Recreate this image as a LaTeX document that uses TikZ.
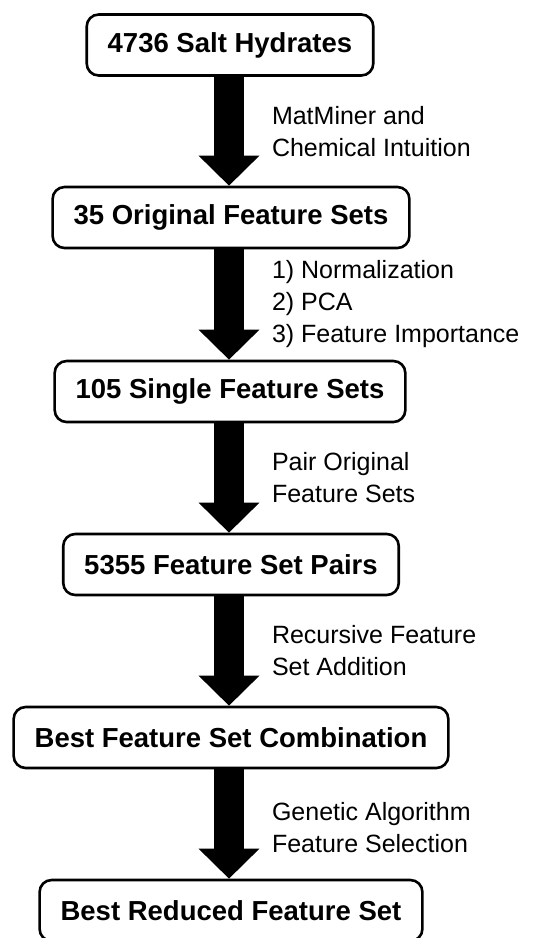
\documentclass[tikz,border=0pt]{standalone}
\usepackage{fontspec}
\setmainfont{Liberation Sans}
\usetikzlibrary{arrows.meta}

\tikzset{
  stage/.style={draw, line width=2.6pt, rounded corners=12pt, minimum height=61pt,
    inner xsep=21pt, font=\fontsize{27.5}{30}\selectfont\bfseries},
  flow/.style={line width=30pt, -{Triangle[width=59pt,length=30pt]}},
  how/.style={font=\fontsize{25}{32}\selectfont, align=left, inner sep=0pt, right=28pt},
}

\begin{document}
\begin{tikzpicture}[x=1pt,y=1pt]
    \useasboundingbox (0,0) rectangle (551,-938);% page frame
    % the stages, top to bottom
    \node[stage] (hydrates) at (230,-45) {4736 Salt Hydrates};
    \node[stage] (original) at (231,-217.5) {35 Original Feature Sets};
    \node[stage] (single) at (230,-391.5) {105 Single Feature Sets};
    \node[stage] (pairs) at (231,-564.5) {5355 Feature Set Pairs};
    \node[stage] (combo) at (231,-737.5) {Best Feature Set Combination};
    \node[stage] (reduced) at (231,-910.5) {Best Reduced Feature Set};
    % block arrows with what happens on each step
    \draw[flow] (hydrates.south -| 229,0) -- (original.north -| 229,0)
        node[how, midway] {MatMiner and\\Chemical Intuition};
    \draw[flow] (original.south -| 229,0) -- (single.north -| 229,0)
        node[how, midway] {1) Normalization\\2) PCA\\3) Feature Importance};
    \draw[flow] (single.south -| 229,0) -- (pairs.north -| 229,0)
        node[how, midway] {Pair Original\\Feature Sets};
    \draw[flow] (pairs.south -| 229,0) -- (combo.north -| 229,0)
        node[how, midway] {Recursive Feature\\Set Addition};
    \draw[flow] (combo.south -| 229,0) -- (reduced.north -| 229,0)
        node[how, midway, yshift=-4pt] {Genetic Algorithm\\Feature Selection};
\end{tikzpicture}
\end{document}
